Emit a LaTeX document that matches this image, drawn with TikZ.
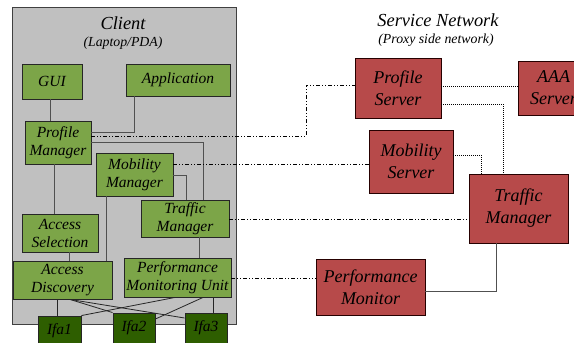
\documentclass[tikz,border=0pt]{standalone}
\usepackage{fontspec}
\setmainfont{Liberation Serif}
\newfontfamily\tmsfont{Liberation Serif}
\usetikzlibrary{calc}
\definecolor{cgray}{RGB}{192,192,192}
\definecolor{cgreen}{RGB}{124,165,72}
\definecolor{cdark}{RGB}{46,94,0}
\definecolor{cred}{RGB}{183,74,74}
\definecolor{cline}{RGB}{80,80,80}
\tikzset{
  gbox/.style={draw=black!85, line width=0.9pt, fill=cgreen, inner sep=0pt, align=center,
    font=\tmsfont\fontsize{15.5}{18}\selectfont\itshape},
  ifabox/.style={draw=black!85, line width=0.9pt, fill=cdark, inner sep=0pt, align=center,
    font=\tmsfont\fontsize{15.5}{18}\selectfont\itshape, minimum width=43pt, minimum height=30pt},
  rbox/.style={draw=black!85!red, line width=0.9pt, fill=cred, inner sep=0pt, align=center,
    font=\tmsfont\fontsize{18}{22}\selectfont\itshape},
  conn/.style={draw=cline, line width=0.9pt},
  thin/.style={draw=black!85, line width=0.8pt},
  ddot/.style={draw=black, line width=0.8pt, dash pattern=on 4pt off 2pt on 1pt off 2pt on 1pt off 2pt},
  dotl/.style={draw=black, line width=0.8pt, dash pattern=on 1pt off 1pt},
  title/.style={font=\tmsfont\fontsize{18.4}{22}\selectfont\itshape, inner sep=0pt},
  subtitle/.style={font=\tmsfont\fontsize{13.8}{16}\selectfont\itshape, inner sep=0pt}
}
\begin{document}
\begin{tikzpicture}[x=1pt,y=-1pt]
\useasboundingbox (0,0) rectangle (574,343);
\clip (0,0) rectangle (574,343);
\fill[white] (0,0) rectangle (574,343);
% client area
\node[draw=black!75, line width=0.9pt, fill=cgray, minimum width=224pt, minimum height=317pt, inner sep=0pt] (client) at (124,165.5) {};
\node[title] (clienttitle) at (123,23) {Client};
\node[subtitle] (clientsub) at (123,43) {(Laptop/PDA)};
\node[title] (sntitle) at (438,20.5) {Service Network};
\node[subtitle] (snsub) at (436,40) {(Proxy side network)};
% client boxes
\node[gbox, minimum width=60pt, minimum height=35pt] (gui) at (52,81.5) {GUI};
\node[gbox, minimum width=104pt, minimum height=32pt] (app) at (178,80) {Application};
\node[gbox, minimum width=66pt, minimum height=43pt] (pm) at (58,142.5) {Profile\\Manager};
\node[gbox, minimum width=77pt, minimum height=43pt] (mm) at (134.5,174.5) {Mobility\\Manager};
\node[gbox, minimum width=88pt, minimum height=37pt] (tm) at (185,218.5) {Traffic\\Manager};
\node[gbox, minimum width=76pt, minimum height=38pt] (as) at (60,233) {Access\\Selection};
\node[gbox, minimum width=99pt, minimum height=38pt] (ad) at (62.5,280) {Access\\Discovery};
\node[gbox, minimum width=107pt, minimum height=39pt] (pmu) at (177.5,277.5) {Performance\\Monitoring Unit};
% client connectors
\draw[conn] (50,0 |- gui.south) -- (50,0 |- pm.north);
\draw[conn] (134,0 |- app.south) |- (pm.east |- 0,132);
\draw[conn] (pm.east |- 0,142) -| (203,0 |- tm.north);
\draw[conn] (mm.east |- 0,175) -| (186,0 |- tm.north);
\draw[conn] (54,0 |- pm.south) -- (54,0 |- as.north);
\draw[conn] (106,0 |- mm.south) -- (106,0 |- ad.north);
\draw[conn] (69,0 |- as.south) -- (69,0 |- ad.north);
\draw[conn] (199,0 |- tm.south) -- (199,0 |- pmu.north);
% interfaces
\node[ifabox] (ifa1) at (59.5,331) {Ifa1};
\node[ifabox, minimum width=42pt] (ifa2) at (134,328) {Ifa2};
\node[ifabox, minimum width=42pt] (ifa3) at (206,328) {Ifa3};
\draw[thin] (57,0 |- ad.south) -- (57,0 |- ifa1.north);
\draw[thin] (70,0 |- ad.south) -- (ifa2.north west);
\draw[thin] (70,0 |- ad.south) -- (ifa3.west |- 0,318);
\draw[thin] (175,0 |- pmu.south) -- (ifa1.north east);
\draw[thin] (203,0 |- pmu.south) -- (ifa2.east |- 0,319);
\draw[thin] (213,0 |- pmu.south) -- (213,0 |- ifa3.north);
% server boxes
\node[rbox, minimum width=86pt, minimum height=60pt] (ps) at (398,88) {Profile\\Server};
\node[rbox, minimum width=71pt, minimum height=54pt] (aaa) at (553.5,88) {AAA\\Server};
\node[rbox, minimum width=84pt, minimum height=63pt] (ms) at (411,161.5) {Mobility\\Server};
\node[rbox, minimum width=99pt, minimum height=69pt] (ts) at (518.5,208.5) {Traffic\\Manager};
\node[rbox, minimum width=109pt, minimum height=56pt] (pmon) at (370.5,287) {Performance\\Monitor};
% dash-dot links
\draw[ddot] (pm.east |- 0,136) -| (306,85) -- (ps.west |- 0,85);
\draw[ddot] (mm.east |- 0,164) -- (ms.west |- 0,164);
\draw[ddot] (tm.east |- 0,219) -- (ts.west |- 0,219);
\draw[ddot] (pmu.east |- 0,278) -- (pmon.west |- 0,278);
% dotted links
\draw[dotl] (ps.east |- 0,86) -- (aaa.west |- 0,86);
\draw[dotl] (ps.east |- 0,104) -| (503,0 |- ts.north);
\draw[dotl] (ms.east |- 0,155) -| (481,0 |- ts.north);
\draw[conn] (496,0 |- ts.south) |- (pmon.east |- 0,291);
\end{tikzpicture}
\end{document}
